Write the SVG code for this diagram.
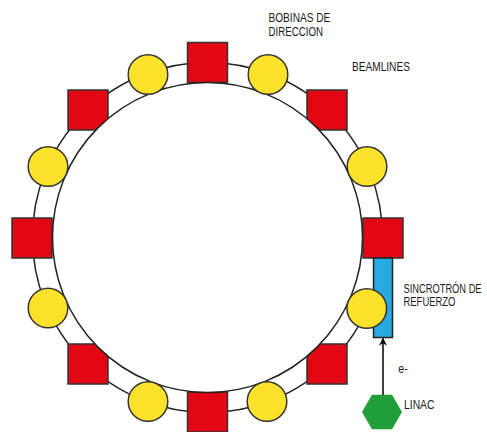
<svg xmlns="http://www.w3.org/2000/svg" width="487" height="432" viewBox="0 0 487 432">
<defs>
<style>
.ring{fill:none;stroke:#222;stroke-width:1.5}
.inner{fill:#fff;stroke:#222;stroke-width:1.5}
.sq{fill:#e30613;stroke:#333;stroke-width:1.5}
.ci{fill:#fde22b;stroke:#333;stroke-width:1.5}
.blue{fill:#29a9e1;stroke:#222;stroke-width:1.5}
.hex{fill:#1f9e3a}
.lbl{font-family:"Liberation Sans",Arial,sans-serif;font-size:12.5px;fill:#1a1a1a}
.conn{stroke:#000;stroke-width:1.5;fill:none}
</style>
<marker id="ah" viewBox="0 0 10 10" refX="9" refY="5" markerWidth="8" markerHeight="8" markerUnits="userSpaceOnUse" orient="auto">
<path d="M0,0 L10,5 L0,10 L3,5 Z" fill="#000"/>
</marker>
</defs>
<rect width="487" height="432" fill="#fff"/>
<g id="ring"><circle class="ring" cx="207.5" cy="237.5" r="175"/></g>
<g id="squares">
<rect id="sq-top" class="sq" x="187.5" y="42.5" width="40" height="40"/>
<rect id="sq-ur" class="sq" x="307" y="90" width="40" height="40"/>
<rect id="sq-right" class="sq" x="363" y="218" width="40" height="40"/>
<rect id="sq-lr" class="sq" x="307" y="344" width="40" height="40"/>
<rect id="sq-bottom" class="sq" x="187.5" y="392" width="40" height="40"/>
<rect id="sq-ll" class="sq" x="68" y="344" width="40" height="40"/>
<rect id="sq-left" class="sq" x="12" y="218" width="40" height="40"/>
<rect id="sq-ul" class="sq" x="68" y="90" width="40" height="40"/>
</g>
<g id="inner"><circle class="inner" cx="207.5" cy="237.5" r="155"/></g>
<g id="booster"><rect class="blue" x="373.5" y="258" width="19" height="79.5"/></g>
<g id="circles">
<circle id="ci-1" class="ci" cx="148" cy="74.5" r="19.8"/>
<circle id="ci-2" class="ci" cx="268" cy="74.5" r="19.8"/>
<circle id="ci-3" class="ci" cx="367" cy="166.5" r="19.8"/>
<circle id="ci-4" class="ci" cx="366.8" cy="308.5" r="19.8"/>
<circle id="ci-5" class="ci" cx="267" cy="401.5" r="19.8"/>
<circle id="ci-6" class="ci" cx="148" cy="401.5" r="19.8"/>
<circle id="ci-7" class="ci" cx="48" cy="308" r="19.8"/>
<circle id="ci-8" class="ci" cx="48" cy="166.5" r="19.8"/>
</g>
<g id="linac"><polygon class="hex" points="362,412 372,394.7 392,394.7 402,412 392,429.3 372,429.3"/></g>
<g id="connectors"><line class="conn" x1="383" y1="395" x2="383" y2="338.5" marker-end="url(#ah)"/></g>
<g id="labels">
<text class="lbl" transform="translate(268.5,22) scale(0.81,1)">BOBINAS DE</text>
<text class="lbl" transform="translate(268.5,35.7) scale(0.777,1)">DIRECCION</text>
<text class="lbl" transform="translate(352,71) scale(0.81,1)">BEAMLINES</text>
<text class="lbl" transform="translate(403.5,293) scale(0.745,1)">SINCROTRÓN DE</text>
<text class="lbl" transform="translate(403.5,305.5) scale(0.756,1)">REFUERZO</text>
<text class="lbl" transform="translate(398.3,373.3) scale(0.85,1)">e-</text>
<text class="lbl" transform="translate(404,408.5) scale(0.83,1)">LINAC</text>
</g>
</svg>
